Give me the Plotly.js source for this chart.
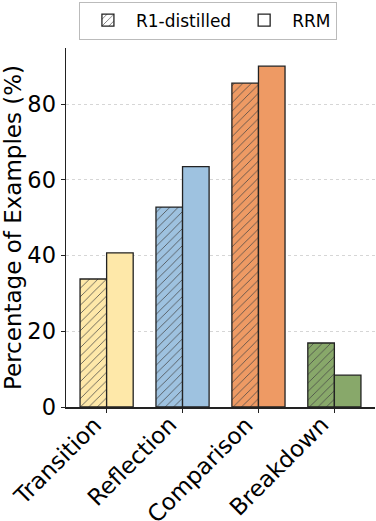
<!DOCTYPE html>
<html>
<head>
<meta charset="utf-8">
<script src="https://cdn.plot.ly/plotly-3.0.1.min.js"></script>
<style>html,body{margin:0;padding:0;background:#fff;}#chart{width:376px;height:521px;}</style>
</head>
<body>
<div id="chart"></div>
<script>
const categories = ["Transition", "Reflection", "Comparison", "Breakdown"];
const r1Distilled = [33.8, 52.8, 85.5, 16.9];
const rrm = [40.7, 63.5, 90.0, 8.4];
const barColors = ["#FEE8A9", "#9EC2E0", "#EE9A64", "#88A86A"];
const seriesNames = ["R1-distilled", "RRM"];
const yTicks = [0, 20, 40, 60, 80];

const font = "DejaVu Sans, sans-serif";
const line = {color: "#222", width: 1.3};
const hatch = (bg) => ({shape: "/", fillmode: "overlay", bgcolor: bg, fgcolor: "#333", fgopacity: 0.85, size: 6, solidity: 0.15});

const traces = [
  {type: "bar", x: categories, y: r1Distilled, name: seriesNames[0], showlegend: false,
   marker: {color: barColors, line: line, pattern: hatch(barColors)}, hoverinfo: "skip"},
  {type: "bar", x: categories, y: rrm, name: seriesNames[1], showlegend: false,
   marker: {color: barColors, line: line}, hoverinfo: "skip"},
  // legend-only entries on a hidden subplot
  {type: "bar", x: [0], y: [0], name: seriesNames[0], xaxis: "x2", yaxis: "y2",
   marker: {color: "#fff", line: line, pattern: hatch("#fff")}},
  {type: "bar", x: [0], y: [0], name: seriesNames[1], xaxis: "x2", yaxis: "y2",
   marker: {color: "#fff", line: line}}
];

// category labels drawn as rotated annotations (right/top aligned like the reference)
const labelAnnotations = categories.map(c => ({
  x: c, xref: "x", y: 0, yref: "y", text: c, showarrow: false,
  textangle: -45, xanchor: "right", yanchor: "top", yshift: -2, xshift: 2,
  font: {family: font, size: 23, color: "#000"}
}));

const layout = {
  width: 376, height: 521,
  margin: {l: 66, r: 1, t: 48, b: 114, autoexpand: false},
  paper_bgcolor: "#fff", plot_bgcolor: "#fff",
  font: {family: font, color: "#000", size: 23},
  barmode: "group", bargap: 0.3, bargroupgap: 0,
  showlegend: true,
  legend: {orientation: "h", xref: "container", x: 0.553, xanchor: "center",
           yref: "container", y: 0.997, yanchor: "top",
           bordercolor: "#bbb", borderwidth: 1, bgcolor: "#fff",
           font: {family: font, size: 17}, tracegroupgap: 0, itemwidth: 46},
  annotations: labelAnnotations,
  xaxis: {
    type: "category", range: [-0.535, 3.535],
    showline: true, linecolor: "#222", linewidth: 1.5, mirror: false,
    ticks: "outside", ticklen: 4, tickwidth: 1, tickcolor: "#222",
    showticklabels: false, showgrid: false, zeroline: false, fixedrange: true
  },
  yaxis: {
    range: [0, 94.8], tickvals: yTicks, ticktext: yTicks.map(String),
    showline: true, linecolor: "#222", linewidth: 1.5,
    ticks: "outside", ticklen: 4, tickwidth: 1, tickcolor: "#222",
    tickfont: {family: font, size: 22.5},
    showgrid: true, gridcolor: "#ccc", griddash: "dot", gridwidth: 0.8,
    zeroline: false, layer: "above traces",
    title: {text: "Percentage of Examples (%)", font: {family: font, size: 23}, standoff: 5},
    fixedrange: true
  },
  xaxis2: {domain: [0, 0.01], anchor: "y2", visible: false, range: [5, 6]},
  yaxis2: {domain: [0, 0.01], anchor: "x2", visible: false, range: [5, 6]}
};

Plotly.newPlot("chart", traces, layout, {displayModeBar: false, staticPlot: true});
</script>
</body>
</html>
